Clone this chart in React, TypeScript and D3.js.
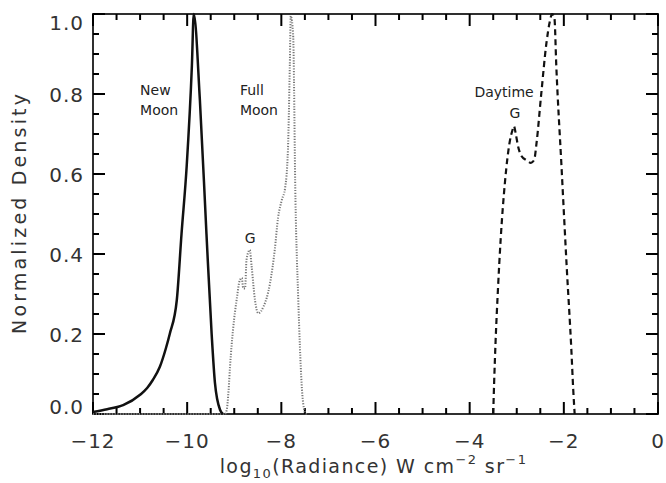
import React, { useEffect, useRef } from 'react';
import * as d3 from 'd3';

// New Moon (solid)
const newMoonX = [-12, -11.7, -11.36, -11.0, -10.85, -10.73, -10.58, -10.45, -10.37, -10.22, -10.12, -10.01, -9.9, -9.86, -9.73, -9.59, -9.48, -9.41, -9.3, -9.24];
const newMoonY = [0.005, 0.012, 0.022, 0.048, 0.065, 0.085, 0.118, 0.165, 0.2, 0.285, 0.45, 0.62, 0.87, 1.0, 0.785, 0.45, 0.2, 0.078, 0.01, 0];

// Full Moon (dotted)
const fullMoonX = [-12, -9.2, -9.16, -9.12, -9.09, -9.02, -8.95, -8.88, -8.84, -8.81, -8.77, -8.74, -8.67, -8.63, -8.56, -8.49, -8.38, -8.24, -8.14, -8.07, -7.99, -7.92, -7.86, -7.82, -7.8, -7.75, -7.7, -7.64, -7.57, -7.5, -7.46];
const fullMoonY = [0, 0, 0.01, 0.06, 0.118, 0.218, 0.285, 0.335, 0.34, 0.315, 0.314, 0.385, 0.41, 0.368, 0.285, 0.252, 0.268, 0.327, 0.41, 0.49, 0.535, 0.565, 0.66, 0.87, 0.995, 0.95, 0.535, 0.285, 0.077, 0.005, 0];

// Daytime (dashed)
const dayX = [-3.5, -3.48, -3.45, -3.4, -3.34, -3.25, -3.15, -3.09, -3.06, -3.02, -2.97, -2.9, -2.8, -2.7, -2.63, -2.58, -2.48, -2.37, -2.3, -2.25, -2.2, -2.16, -2.05, -1.94, -1.84, -1.8, -1.77];
const dayY = [0, 0.08, 0.18, 0.31, 0.44, 0.58, 0.68, 0.71, 0.72, 0.7, 0.668, 0.645, 0.635, 0.628, 0.635, 0.677, 0.8, 0.927, 0.98, 1.0, 0.99, 0.87, 0.62, 0.37, 0.16, 0.06, 0];

const xTicks = [-12, -10, -8, -6, -4, -2, 0];
const xTickLabels = ['\u221212', '\u221210', '\u22128', '\u22126', '\u22124', '\u22122', '0'];
const yTicks = [0, 0.2, 0.4, 0.6, 0.8, 1.0];
const yTickLabels = ['0.0', '0.2', '0.4', '0.6', '0.8', '1.0'];

export default function App() {
  const svgRef = useRef<SVGSVGElement>(null);

  useEffect(() => {
    if (!svgRef.current) return;
    const svg = d3.select(svgRef.current);
    svg.selectAll('*').remove();

    const width = 666;
    const height = 483;
    const margin = { top: 14, right: 8, bottom: 69, left: 93 };
    const ink = '#000';
    const font = '"DejaVu Sans", sans-serif';

    const x = d3.scaleLinear().domain([-12, 0]).range([margin.left, width - margin.right]);
    const y = d3.scaleLinear().domain([0, 1]).range([height - margin.bottom, margin.top]);

    const xMinor = d3.range(-11.5, 0, 0.5).filter(v => !xTicks.includes(v));
    const yMinor = d3.range(1, 20).map(i => i * 0.05).filter(v => !yTicks.some(t => Math.abs(t - v) < 1e-6));
    const x0 = x(-12), x1 = x(0), y0 = y(0), y1 = y(1);

    // frame
    svg.append('rect')
      .attr('x', x0)
      .attr('y', y1)
      .attr('width', x1 - x0)
      .attr('height', y0 - y1)
      .attr('fill', 'none')
      .attr('stroke', '#1a1a1a')
      .attr('stroke-width', 1.8);

    // inward ticks on all four sides
    const major = 12;
    const minor = 6;
    const tickG = svg.append('g');
    const xt = xTicks.concat(xMinor);
    const yt = yTicks.concat(yMinor);
    tickG.selectAll('line.xb').data(xt).enter().append('line')
      .attr('x1', v => x(v)).attr('x2', v => x(v))
      .attr('y1', y0).attr('y2', v => y0 - (xTicks.includes(v) ? major : minor))
      .attr('stroke', ink).attr('stroke-width', 2);
    tickG.selectAll('line.xt').data(xt).enter().append('line')
      .attr('x1', v => x(v)).attr('x2', v => x(v))
      .attr('y1', y1).attr('y2', v => y1 + (xTicks.includes(v) ? major : minor))
      .attr('stroke', ink).attr('stroke-width', 2);
    tickG.selectAll('line.yl').data(yt).enter().append('line')
      .attr('y1', v => y(v)).attr('y2', v => y(v))
      .attr('x1', x0).attr('x2', v => x0 + (yTicks.includes(v) ? major : minor))
      .attr('stroke', ink).attr('stroke-width', 2);
    tickG.selectAll('line.yr').data(yt).enter().append('line')
      .attr('y1', v => y(v)).attr('y2', v => y(v))
      .attr('x1', x1).attr('x2', v => x1 - (yTicks.includes(v) ? major : minor))
      .attr('stroke', ink).attr('stroke-width', 2);

    // curves
    const line = d3.line<[number, number]>()
      .x(p => x(p[0]))
      .y(p => y(p[1]))
      .curve(d3.curveMonotoneX);

    svg.append('path')
      .attr('d', line(fullMoonX.map((v, i) => [v, fullMoonY[i]]) as [number, number][]))
      .attr('fill', 'none')
      .attr('stroke', '#777')
      .attr('stroke-width', 2)
      .attr('stroke-dasharray', '1.2 1.5');

    svg.append('path')
      .attr('d', line(newMoonX.map((v, i) => [v, newMoonY[i]]) as [number, number][]))
      .attr('fill', 'none')
      .attr('stroke', '#111')
      .attr('stroke-width', 2.5);

    svg.append('path')
      .attr('d', line(dayX.map((v, i) => [v, dayY[i]]) as [number, number][]))
      .attr('fill', 'none')
      .attr('stroke', '#111')
      .attr('stroke-width', 2.2)
      .attr('stroke-dasharray', '6 4');

    // tick labels
    svg.append('g').selectAll('text')
      .data(xTicks)
      .enter()
      .append('text')
      .attr('x', v => x(v))
      .attr('y', y0 + 34)
      .attr('text-anchor', 'middle')
      .attr('font-family', font)
      .attr('font-size', 20)
      .attr('letter-spacing', 1)
      .attr('fill', '#333')
      .text((v, i) => xTickLabels[i]);

    svg.append('g').selectAll('text')
      .data(yTicks)
      .enter()
      .append('text')
      .attr('x', x0 - 9)
      .attr('y', v => Math.min(Math.max(y(v), y1 + 8), y0 - 8) + 7.5)
      .attr('text-anchor', 'end')
      .attr('font-family', font)
      .attr('font-size', 20)
      .attr('letter-spacing', 1)
      .attr('fill', '#333')
      .text((v, i) => yTickLabels[i]);

    // axis titles
    const xTitle = svg.append('text')
      .attr('x', (x0 + x1) / 2 - 2)
      .attr('y', 473)
      .attr('text-anchor', 'middle')
      .attr('font-family', font)
      .attr('font-size', 19)
      .attr('letter-spacing', 1.4)
      .attr('fill', '#333');
    xTitle.append('tspan').text('log');
    xTitle.append('tspan').attr('font-size', 13).attr('dy', 5).text('10');
    xTitle.append('tspan').attr('dy', -5).text('(Radiance) W cm');
    xTitle.append('tspan').attr('font-size', 13).attr('dy', -9).text('\u22122');
    xTitle.append('tspan').attr('dy', 9).text(' sr');
    xTitle.append('tspan').attr('font-size', 13).attr('dy', -9).text('\u22121');

    svg.append('text')
      .attr('transform', `translate(26,${(y0 + y1) / 2}) rotate(-90)`)
      .attr('text-anchor', 'middle')
      .attr('font-family', font)
      .attr('font-size', 19)
      .attr('textLength', 240)
      .attr('lengthAdjust', 'spacing')
      .attr('fill', '#333')
      .text('Normalized Density');

    // annotations
    const note = (tx: number, ty: number, s: string, anchor = 'start') =>
      svg.append('text')
        .attr('x', x(tx))
        .attr('y', y(ty))
        .attr('text-anchor', anchor)
        .attr('font-family', font)
        .attr('font-size', 14)
        .attr('fill', '#222')
        .text(s);
    note(-11.0, 0.7975, 'New');
    note(-11.0, 0.7475, 'Moon');
    note(-8.88, 0.7975, 'Full');
    note(-8.88, 0.7475, 'Moon');
    note(-8.66, 0.4275, 'G', 'middle');
    note(-3.9, 0.7925, 'Daytime');
    note(-3.04, 0.74, 'G', 'middle');
  }, []);

  return (
    <div style={{ position: 'absolute', left: 0, top: 0 }}>
      <svg ref={svgRef} width={666} height={483} style={{ display: 'block', background: '#fff' }}></svg>
    </div>
  );
}
